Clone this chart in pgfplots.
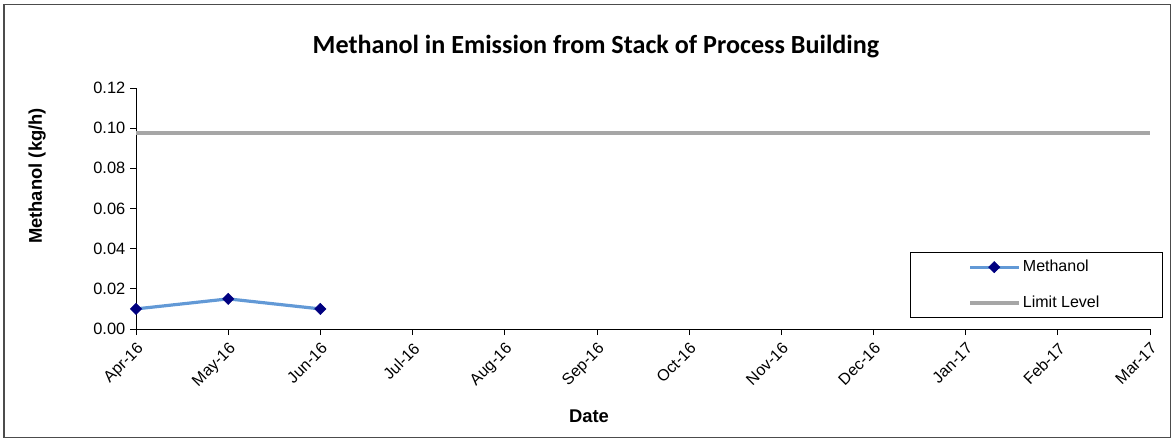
\documentclass[border=0pt]{standalone}
\usepackage{fontspec}
\setmainfont{Liberation Sans}
\newfontfamily\titlefont{Carlito}
\usepackage{pgfplots}
\pgfplotsset{compat=1.18}
\definecolor{methline}{RGB}{98,153,214}
\definecolor{methmark}{RGB}{0,0,128}
\definecolor{limitgray}{RGB}{166,166,166}
\begin{document}
\begin{tikzpicture}
\useasboundingbox (0pt,0pt) rectangle (878.25pt,329.25pt);
\draw[black!70, line width=0.8pt] (3pt,0.9pt) rectangle (877.6pt,326.1pt);
\begin{axis}[
  at={(102pt,82.5pt)}, anchor=origin,
  scale only axis, width=760.5pt, height=180.75pt,
  xmin=0, xmax=11, ymin=0, ymax=0.12,
  axis x line*=bottom, axis y line*=left,
  axis line style={black, line width=0.6pt},
  xtick={0,...,11},
  xticklabels={Apr-16,May-16,Jun-16,Jul-16,Aug-16,Sep-16,Oct-16,Nov-16,Dec-16,Jan-17,Feb-17,Mar-17},
  ytick={0,0.02,0.04,0.06,0.08,0.10,0.12},
  tick align=outside, major tick length=4.5pt,
  tick style={black, line width=0.6pt},
  /pgf/number format/assume math mode=true,
  yticklabel style={/pgf/number format/fixed, /pgf/number format/fixed zerofill,
                    /pgf/number format/precision=2, font=\fontsize{12.3}{14}\selectfont},
  scaled y ticks=false,
  xticklabel style={rotate=45, anchor=north east, font=\fontsize{12}{14}\selectfont},
  title={\titlefont\bfseries Methanol in Emission from Stack of Process Building},
  title style={font=\fontsize{19.6}{23}\selectfont, at={(rel axis cs:0.4536,1.137)}, anchor=center},
  xlabel={Date},
  xlabel style={font=\bfseries\fontsize{13.8}{16}\selectfont, at={(rel axis cs:0.4467,-0.361)}, anchor=center},
  ylabel={Methanol (kg/h)},
  ylabel style={font=\bfseries\fontsize{13.8}{16}\selectfont, at={(rel axis cs:-0.0976,0.635)}, anchor=center, rotate=0},
  legend style={at={(rel axis cs:1.0128,0.3195)}, anchor=north east, draw=black, line width=0.6pt,
                font=\fontsize{12}{14}\selectfont, row sep=12.5pt, inner ysep=4pt},
  legend cell align=left,
  legend image code/.code={\path (-1.42cm,0cm); \draw[mark repeat=2,mark phase=2,#1] plot coordinates {(0cm,0cm) (0.63cm,0cm) (1.27cm,0cm)};},
  clip=false,
]
\addplot[methline, line width=2.4pt, mark=square*, mark size=3.0pt,
         mark options={fill=methmark, draw=methmark, line width=0.4pt, rotate=45}]
  coordinates {(0,0.010) (1,0.015) (2,0.010)};
\addlegendentry{\makebox[99.75pt][l]{Methanol}}
\addplot[limitgray, line width=2.6pt]
  coordinates {(0,0.0975) (11,0.0975)};
\addlegendentry{\makebox[99.75pt][l]{Limit Level}}
\end{axis}
\end{tikzpicture}
\end{document}
